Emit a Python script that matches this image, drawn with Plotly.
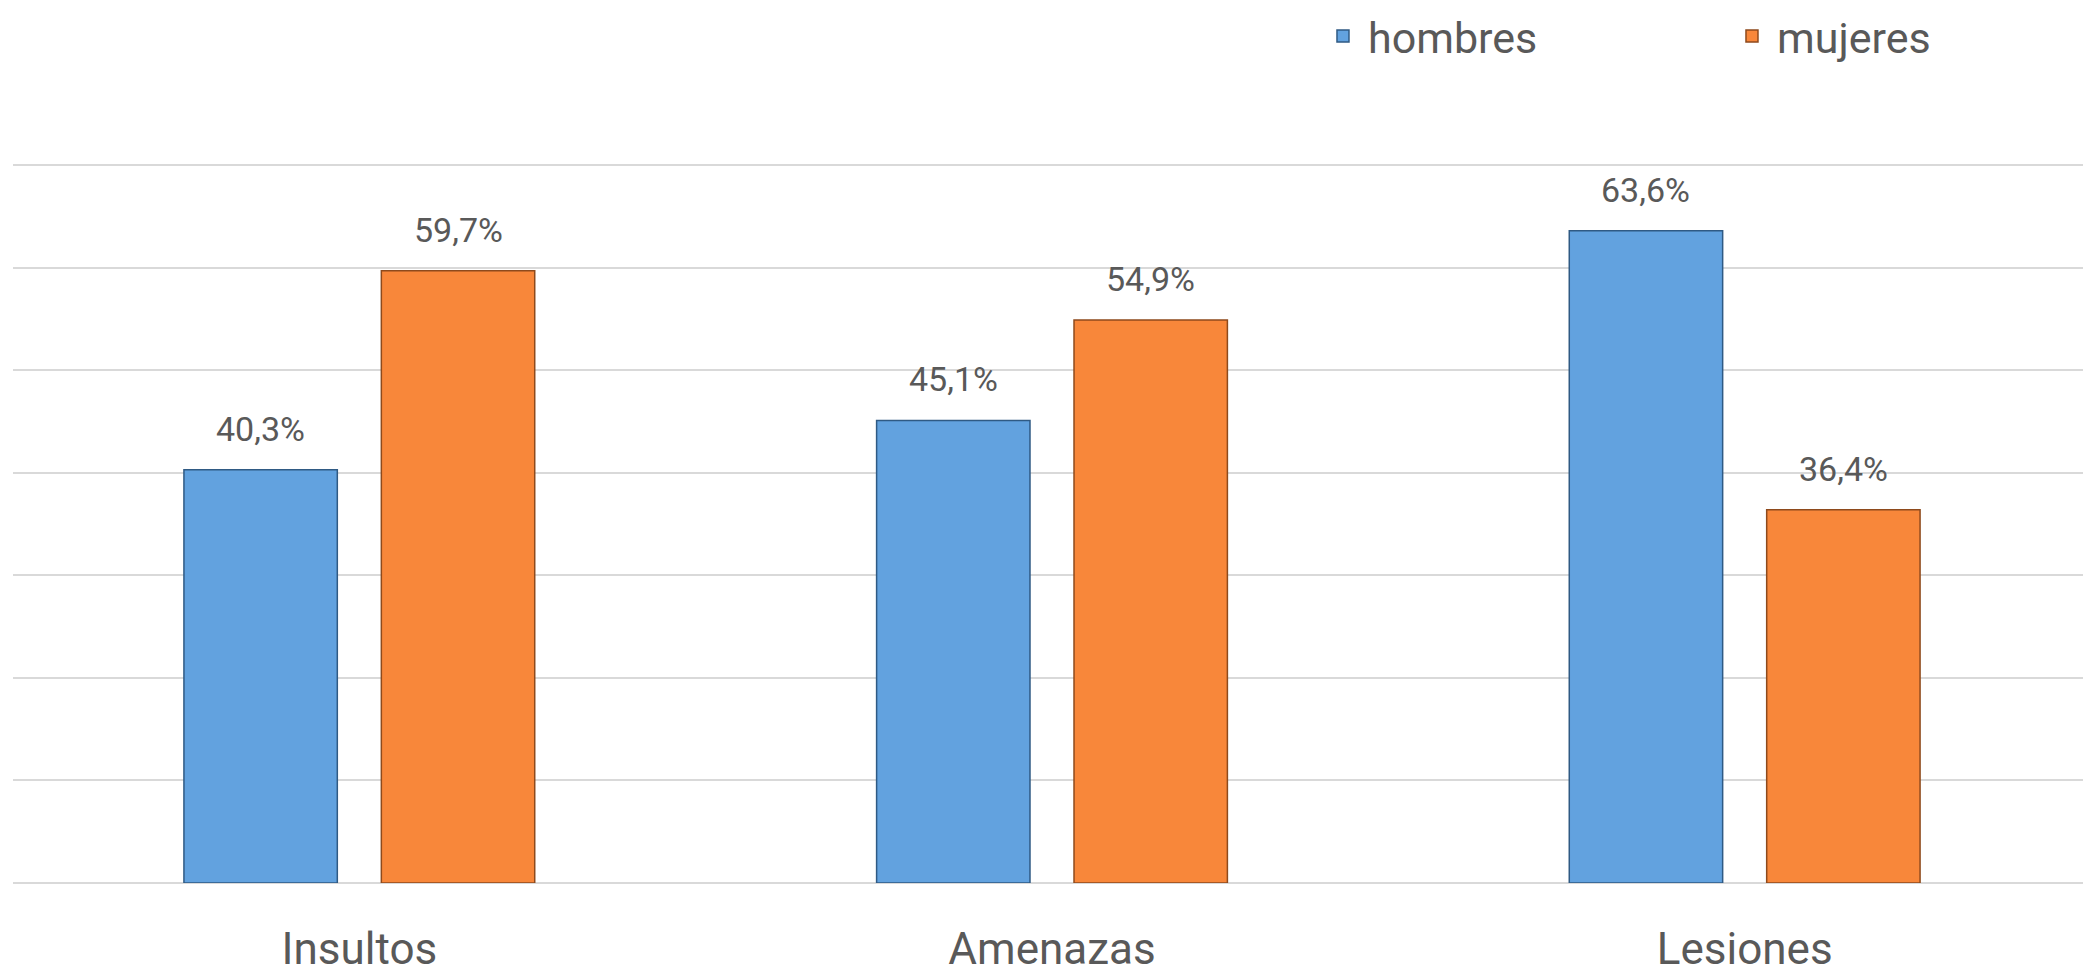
import plotly.graph_objects as go

categories = ["Insultos", "Amenazas", "Lesiones"]
hombres = [40.3, 45.1, 63.6]
mujeres = [59.7, 54.9, 36.4]
series_names = ["hombres", "mujeres"]

FONT = "Roboto"
TXT = "#595959"
# page body adds an 8px margin around the figure
W, H = 2083, 969
ML, MR, MT, MB = 5, 0, 156, 94
BARGAP, BARGROUPGAP = 0.43, 0.223

fig = go.Figure()
fig.add_trace(go.Bar(
    x=categories, y=hombres, name=series_names[0],
    marker=dict(color="#62A2DF", line=dict(color="#2F5A84", width=1.5)),
))
fig.add_trace(go.Bar(
    x=categories, y=mujeres, name=series_names[1],
    marker=dict(color="#F8873A", line=dict(color="#8E4A1C", width=1.5)),
))

# data labels placed over each bar via the category axis
cat_px = (W - ML - MR) / len(categories)
slot = cat_px * (1 - BARGAP) / 2
annotations = []
for vals, sign in ((hombres, -1), (mujeres, 1)):
    for c, v in zip(categories, vals):
        annotations.append(dict(
            x=c, y=v, xref="x", yref="y", text=f"{v:.1f}%".replace(".", ","),
            showarrow=False, xshift=sign * slot / 2, yshift=41, yanchor="middle",
            font=dict(size=34, color=TXT, family=FONT),
        ))

fig.update_layout(
    width=W, height=H,
    separators=",.",
    barmode="group", bargap=BARGAP, bargroupgap=BARGROUPGAP,
    plot_bgcolor="white", paper_bgcolor="white",
    margin=dict(l=ML, r=MR, t=MT, b=MB, autoexpand=False),
    font=dict(family=FONT, color=TXT),
    showlegend=True,
    annotations=annotations,
    legend=dict(orientation="h", x=0.628, xanchor="left", y=0.971, yref="container", yanchor="middle",
                font=dict(size=43, color=TXT, family=FONT), entrywidth=354, entrywidthmode="pixels",
                itemwidth=40),
    xaxis=dict(showgrid=False, showline=False, ticks="", automargin=False,
               tickfont=dict(size=44, color=TXT, family=FONT), ticklabelstandoff=36),
    yaxis=dict(range=[0, 70.1], dtick=10, showgrid=True, gridcolor="#D9D9D9", gridwidth=2,
               showticklabels=False, automargin=False,
               zeroline=True, zerolinecolor="#D9D9D9", zerolinewidth=2),
)

fig.write_html("out.html")
